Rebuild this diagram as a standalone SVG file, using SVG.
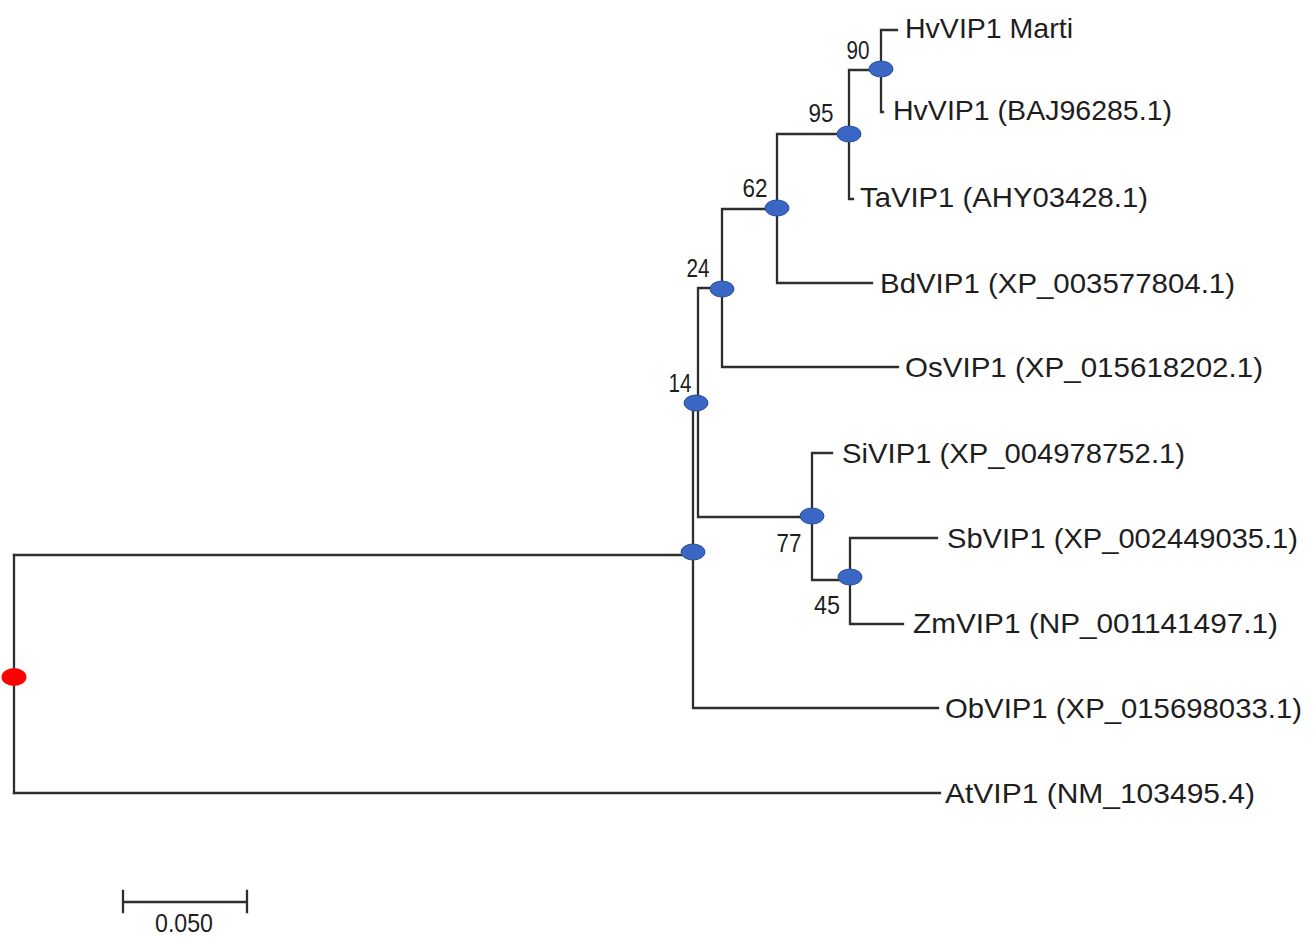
<svg xmlns="http://www.w3.org/2000/svg" width="1316" height="939" viewBox="0 0 1316 939">
<style>
.br{fill:none;stroke:#2e2e2e;stroke-width:2.3;stroke-linejoin:miter;stroke-linecap:square}
.nd{fill:#3b67c4;stroke:#2a4f9c;stroke-width:1}
.root{fill:#ff0000}
.lf{font-family:"Liberation Sans",Arial,sans-serif;font-size:28px;fill:#1e1e1e}
.bs{font-family:"Liberation Sans",Arial,sans-serif;font-size:25px;fill:#1e1e1e;text-anchor:middle}
</style>
<rect width="1316" height="939" fill="#ffffff"/>
<g id="connectors">
<path class="br" d="M14,555 V793"/>
<path class="br" d="M14,555 H693"/>
<path class="br" d="M14,793 H940"/>
<path class="br" d="M693,403 V708 H938"/>
<path class="br" d="M722,288 H698 V517 H812"/>
<path class="br" d="M777,209 H722 V367 H898"/>
<path class="br" d="M849,134 H777 V283 H872"/>
<path class="br" d="M881,70 H849 V199 H853"/>
<path class="br" d="M897,30 H881 V112 H883"/>
<path class="br" d="M832,453 H812 V580 H850"/>
<path class="br" d="M937,538 H850 V624 H903"/>
</g>
<g id="root"><ellipse class="root" cx="14" cy="677" rx="12.5" ry="9"/></g>
<g id="nodeA"><ellipse class="nd" cx="693" cy="552" rx="12" ry="8"/></g>
<g id="node14"><ellipse class="nd" cx="696" cy="403" rx="12" ry="8"/><text class="bs" x="680" y="392" textLength="23" lengthAdjust="spacingAndGlyphs">14</text></g>
<g id="node24"><ellipse class="nd" cx="722" cy="289" rx="12" ry="8"/><text class="bs" x="698" y="277" textLength="23" lengthAdjust="spacingAndGlyphs">24</text></g>
<g id="node62"><ellipse class="nd" cx="777" cy="208" rx="12" ry="8"/><text class="bs" x="755" y="197" textLength="25" lengthAdjust="spacingAndGlyphs">62</text></g>
<g id="node95"><ellipse class="nd" cx="849" cy="134" rx="12" ry="8"/><text class="bs" x="821" y="122" textLength="25" lengthAdjust="spacingAndGlyphs">95</text></g>
<g id="node90"><ellipse class="nd" cx="881" cy="69" rx="12" ry="8"/><text class="bs" x="858" y="59" textLength="23" lengthAdjust="spacingAndGlyphs">90</text></g>
<g id="node77"><ellipse class="nd" cx="812" cy="516" rx="12" ry="8"/><text class="bs" x="789" y="552" textLength="25" lengthAdjust="spacingAndGlyphs">77</text></g>
<g id="node45"><ellipse class="nd" cx="850" cy="577" rx="12" ry="8"/><text class="bs" x="827" y="614" textLength="26" lengthAdjust="spacingAndGlyphs">45</text></g>
<g id="leaf-HvVIP1-Marti"><text class="lf" x="905" y="38" textLength="168" lengthAdjust="spacingAndGlyphs">HvVIP1 Marti</text></g>
<g id="leaf-HvVIP1"><text class="lf" x="893" y="120" textLength="279" lengthAdjust="spacingAndGlyphs">HvVIP1 (BAJ96285.1)</text></g>
<g id="leaf-TaVIP1"><text class="lf" x="860" y="207" textLength="288" lengthAdjust="spacingAndGlyphs">TaVIP1 (AHY03428.1)</text></g>
<g id="leaf-BdVIP1"><text class="lf" x="880" y="293" textLength="355" lengthAdjust="spacingAndGlyphs">BdVIP1 (XP_003577804.1)</text></g>
<g id="leaf-OsVIP1"><text class="lf" x="905" y="377" textLength="358" lengthAdjust="spacingAndGlyphs">OsVIP1 (XP_015618202.1)</text></g>
<g id="leaf-SiVIP1"><text class="lf" x="842" y="463" textLength="343" lengthAdjust="spacingAndGlyphs">SiVIP1 (XP_004978752.1)</text></g>
<g id="leaf-SbVIP1"><text class="lf" x="947" y="548" textLength="351" lengthAdjust="spacingAndGlyphs">SbVIP1 (XP_002449035.1)</text></g>
<g id="leaf-ZmVIP1"><text class="lf" x="913" y="633" textLength="365" lengthAdjust="spacingAndGlyphs">ZmVIP1 (NP_001141497.1)</text></g>
<g id="leaf-ObVIP1"><text class="lf" x="945" y="718" textLength="357" lengthAdjust="spacingAndGlyphs">ObVIP1 (XP_015698033.1)</text></g>
<g id="leaf-AtVIP1"><text class="lf" x="945" y="803" textLength="310" lengthAdjust="spacingAndGlyphs">AtVIP1 (NM_103495.4)</text></g>
<g id="scale-bar">
<path class="br" d="M123,902 H247 M123,891 V912 M247,891 V912"/>
<text class="bs" x="184" y="932" textLength="58" lengthAdjust="spacingAndGlyphs">0.050</text>
</g>
</svg>
